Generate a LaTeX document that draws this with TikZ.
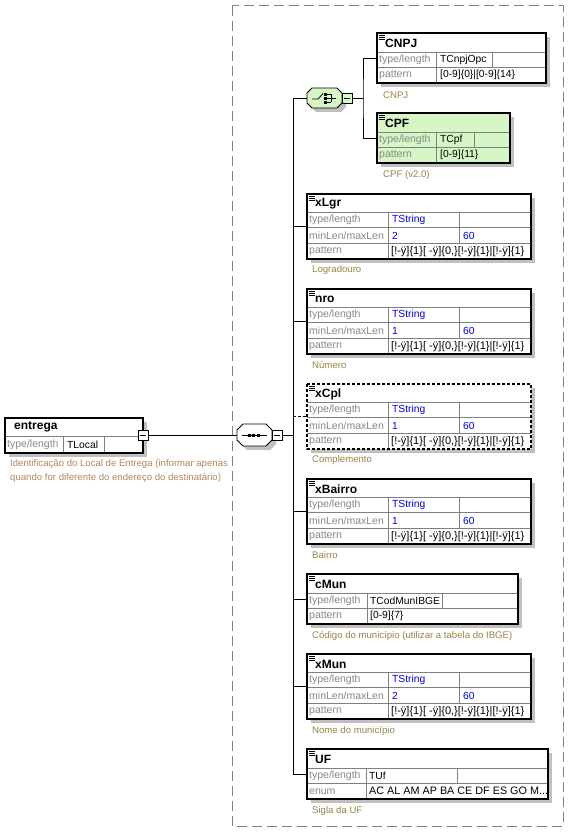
\documentclass[tikz,border=0pt]{standalone}
\usepackage{fontspec}
\setmainfont{Liberation Sans}
\definecolor{shadowc}{RGB}{192,192,192}
\definecolor{greenf}{RGB}{214,246,198}
\definecolor{descc}{RGB}{150,132,70}
\definecolor{descc2}{RGB}{176,136,96}
\definecolor{valblue}{RGB}{0,0,235}
\definecolor{keyg}{RGB}{136,136,136}
\definecolor{cellg}{RGB}{128,128,128}
\definecolor{framec}{RGB}{128,128,128}
\tikzset{
 elembox/.style={inner sep=0pt, outer sep=0pt, anchor=north west},
 cellln/.style={draw=cellg, line width=0.7pt},
 keytxt/.style={anchor=west, inner sep=0pt, text=keyg, font=\fontsize{10.5}{12}\selectfont},
 valtxt/.style={anchor=west, inner sep=0pt, text=black, font=\fontsize{10.3}{12}\selectfont},
 pattxt/.style={anchor=west, inner sep=0pt, text=black, font=\fontsize{11}{13}\selectfont},
 hdrtxt/.style={anchor=west, inner sep=0pt, font=\bfseries\fontsize{12}{14}\selectfont},
 desctxt/.style={anchor=west, inner sep=0pt, text=descc, font=\fontsize{9.6}{12}\selectfont},
 portbox/.style={draw=black, line width=0.8pt, fill=white, minimum size=10pt, inner sep=0pt, outer sep=0pt},
 conn/.style={draw=black, line width=0.8pt},
 bord/.style={draw=black, line width=1.1pt},
}
% frame: name, x1, y1, x2, y2, fill
\newcommand\elemframe[6]{%
  \fill[shadowc] ({#2+4},{#3+4}) rectangle ({#4+4},{#5+4});
  \node[elembox,fill=#6,minimum width={(#4-#2)*1pt},minimum height={(#5-#3)*1pt}] (#1) at (#2,#3) {};
}
\newcommand\elemborder[2]{\draw[bord,#2] (#1.north west) rectangle (#1.south east);}
\newcommand\hicon[2]{%
  \draw[line width=0.6pt] ({#1+2},{#2+2}) -- ++(6,0) ({#1+2},{#2+4}) -- ++(6,0) ({#1+2},{#2+6}) -- ++(6,0);
}
% string box: name, y1, minLen, maxLen, header, border opts, description
\newcommand\strbox[7]{%
  \elemframe{#1}{307}{#2}{531}{#2+65}{white}
  \draw[cellln] (307,{#2+18}) -- (531,{#2+18});
  \draw[cellln] (307,{#2+33.67}) -- (531,{#2+33.67});
  \draw[cellln] (307,{#2+49.33}) -- (531,{#2+49.33});
  \draw[cellln] (388,{#2+18}) -- (388,{#2+65});
  \draw[cellln] (459,{#2+18}) -- (459,{#2+49.33});
  \hicon{307}{#2}
  \node[hdrtxt] at (315,{#2+10}) {#5};
  \node[keytxt] at (309,{#2+25.8}) {type/length};
  \node[valtxt,text=valblue] at (392,{#2+25.8}) {TString};
  \node[keytxt] at (309,{#2+41.5}) {minLen/maxLen};
  \node[valtxt,text=valblue] at (392,{#2+41.5}) {#3};
  \node[valtxt,text=valblue] at (463,{#2+41.5}) {#4};
  \node[keytxt] at (309,{#2+57.2}) {pattern};
  \node[pattxt] at (391,{#2+57.2}) {[!-ÿ]\{1\}[ -ÿ]\{0,\}[!-ÿ]\{1\}|[!-ÿ]\{1\}};
  \elemborder{#1}{#6}
  \node[desctxt] at (312,{#2+76.5}) {#7};
}
% two-row box frame: name, x1, y1, x2, c1, c2, fill, header
\newcommand\twoframe[8]{%
  \elemframe{#1}{#2}{#3}{#4}{#3+50}{#7}
  \draw[cellln] (#2,{#3+19}) -- (#4,{#3+19});
  \draw[cellln] (#2,{#3+34.5}) -- (#4,{#3+34.5});
  \draw[cellln] (#5,{#3+19}) -- (#5,{#3+50});
  \draw[cellln] (#6,{#3+19}) -- (#6,{#3+34.5});
  \hicon{#2}{#3}
  \node[hdrtxt] at ({#2+8},{#3+10}) {#8};
}
% octagon: name, cx, cy, w, h, fill, cut
\newcommand\octa[7]{%
  \node[inner sep=0pt,outer sep=0pt,minimum width=#4pt,minimum height=#5pt] (#1) at (#2,#3) {};
  \fill[shadowc,shift={(4,4)}] ({#2-#4/2+#7},{#3-#5/2}) -- ({#2+#4/2-#7},{#3-#5/2}) -- ({#2+#4/2},{#3-#5/2+#7}) -- ({#2+#4/2},{#3+#5/2-#7}) -- ({#2+#4/2-#7},{#3+#5/2}) -- ({#2-#4/2+#7},{#3+#5/2}) -- ({#2-#4/2},{#3+#5/2-#7}) -- ({#2-#4/2},{#3-#5/2+#7}) -- cycle;
  \path[fill=#6,draw=black,line width=0.8pt] ({#2-#4/2+#7},{#3-#5/2}) -- ({#2+#4/2-#7},{#3-#5/2}) -- ({#2+#4/2},{#3-#5/2+#7}) -- ({#2+#4/2},{#3+#5/2-#7}) -- ({#2+#4/2-#7},{#3+#5/2}) -- ({#2-#4/2+#7},{#3+#5/2}) -- ({#2-#4/2},{#3+#5/2-#7}) -- ({#2-#4/2},{#3-#5/2+#7}) -- cycle;
}
\newcommand\portminus[1]{\draw[line width=0.8pt] ([xshift=-3pt]#1.center) -- ([xshift=3pt]#1.center);}
\begin{document}
\begin{tikzpicture}[x=1pt,y=-1pt]
\useasboundingbox[fill=white] (0,0) rectangle (582,840);
% dashed frame
\draw[framec, line width=1pt, dash pattern=on 10pt off 5pt] (232,6) rectangle (563,826);

% entrega
\elemframe{entrega}{5}{418}{143}{453}{white}
\draw[cellln] (5,436) -- (143,436);
\draw[cellln] (63,436) -- (63,453);
\draw[cellln] (104,436) -- (104,453);
\node[hdrtxt] at (14,427) {entrega};
\node[keytxt] at (7,444.5) {type/length};
\node[valtxt] at (67,444.5) {TLocal};
\elemborder{entrega}{}
\node[desctxt,text=descc2] at (10,464) {Identificação do Local de Entrega (informar apenas};
\node[desctxt,text=descc2] at (10,478) {quando for diferente do endereço do destinatário)};
\node[portbox] (ep) at (143,435) {};
\portminus{ep}

% sequence
\octa{seq}{254.5}{435}{35}{22}{white}{6}
\draw[line width=0.8pt] (242,435) -- (267,435);
\fill (247.5,433.5) rectangle ++(3,3);
\fill (252,433.5) rectangle ++(3,3);
\fill (256.5,433.5) rectangle ++(3,3);
\node[portbox] (seqp) at (277,435) {};
\portminus{seqp}
\draw[conn] (ep.east) -- (seq.west);

% choice
\octa{chx}{324.5}{98}{35}{20}{greenf}{5}
\draw[line width=0.8pt] (312,99) -- (318,99) -- (323,93.5);
\fill (324,93) rectangle ++(3,3);
\fill (324,97) rectangle ++(3,3);
\fill (324,101) rectangle ++(3,3);
\draw[line width=0.8pt] (327,94.5) -- (331,94.5) (327,98.5) -- (336,98.5) (327,102.5) -- (331,102.5) (331,94.5) -- (331,102.5);
\node[portbox,fill=greenf] (chp) at (347,98) {};
\portminus{chp}

% CNPJ
\twoframe{CNPJ}{377}{33}{546}{436}{492}{white}{CNPJ}
\node[keytxt] at (379,59.75) {type/length};
\node[valtxt] at (440,59.75) {TCnpjOpc};
\node[keytxt] at (379,75.25) {pattern};
\node[valtxt] at (440,75.25) {[0-9]\{0\}|[0-9]\{14\}};
\elemborder{CNPJ}{}
\node[desctxt] at (383,95.5) {CNPJ};

% CPF
\twoframe{CPF}{377}{113}{510}{436}{474}{greenf}{CPF}
\node[keytxt] at (379,139.75) {type/length};
\node[valtxt] at (440,139.75) {TCpf};
\node[keytxt] at (379,155.25) {pattern};
\node[valtxt] at (440,155.25) {[0-9]\{11\}};
\elemborder{CPF}{}
\node[desctxt] at (383,175.5) {CPF (v2.0)};

% string boxes
\strbox{xLgr}{194}{2}{60}{xLgr}{}{Logradouro}
\strbox{nro}{289}{1}{60}{nro}{}{Número}
\strbox{xCpl}{384}{1}{60}{xCpl}{dash pattern=on 3pt off 2pt}{Complemento}
\strbox{xBairro}{479}{1}{60}{xBairro}{}{Bairro}

% cMun
\twoframe{cMun}{307}{574}{518}{367}{442}{white}{cMun}
\node[keytxt] at (309,600.75) {type/length};
\node[valtxt] at (370,600.75) {TCodMunIBGE};
\node[keytxt] at (309,616.25) {pattern};
\node[valtxt] at (370,616.25) {[0-9]\{7\}};
\elemborder{cMun}{}
\node[desctxt] at (312,636) {Código do município (utilizar a tabela do IBGE)};

\strbox{xMun}{654}{2}{60}{xMun}{}{Nome do município}

% UF
\twoframe{UF}{307}{749}{548}{366}{457}{white}{UF}
\node[keytxt] at (309,775.75) {type/length};
\node[valtxt] at (369,775.75) {TUf};
\node[keytxt] at (309,791.25) {enum};
\node[pattxt,font=\fontsize{10.8}{13}\selectfont] at (369,791.25) {AC AL AM AP BA CE DF ES GO M...};
\elemborder{UF}{}
\node[desctxt] at (312,811) {Sigla da UF};

% connectors
\coordinate (sp) at (293,435);
\draw[conn] (seqp.east) -- (sp);
\draw[conn] (sp) |- (chx.west);
\foreach \c in {xLgr,nro,xBairro,cMun,xMun,UF} \draw[conn] (sp) |- (\c.west);
\draw[conn, dash pattern=on 3pt off 2pt] (sp |- xCpl.west) -- (xCpl.west);
\coordinate (chj) at (363,98);
\draw[conn] (chp.east) -- (chj);
\draw[conn] (CNPJ.west) -| (chj) |- (CPF.west);
\end{tikzpicture}
\end{document}
